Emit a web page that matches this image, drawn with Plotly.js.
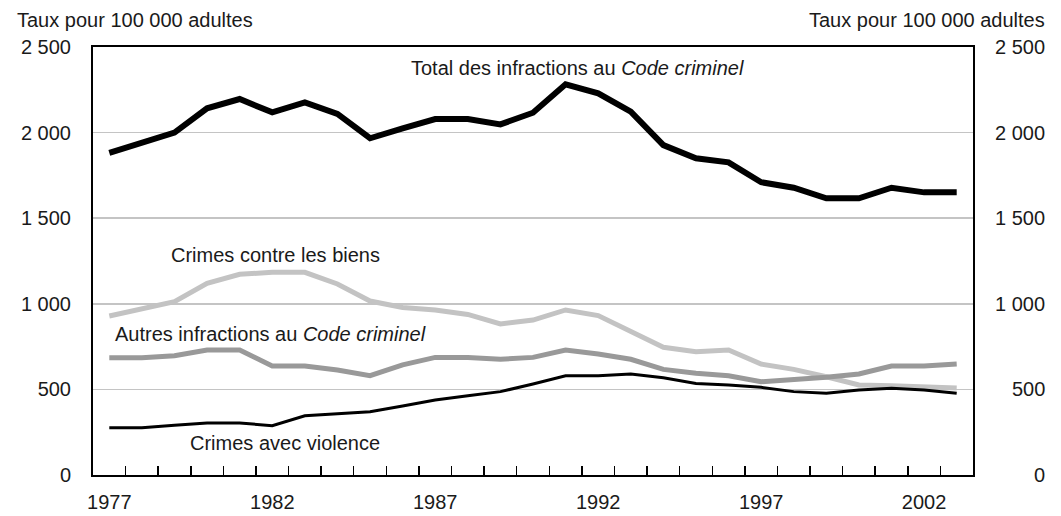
<!DOCTYPE html>
<html><head><meta charset="utf-8">
<script src="https://cdn.plot.ly/plotly-3.0.1.min.js"></script>
<style>
html,body{margin:0;padding:0;background:#fff}
#chart{width:1061px;height:516px}
</style>
</head><body><div id="chart"></div>
<script>
const years = [1977,1978,1979,1980,1981,1982,1983,1984,1985,1986,1987,1988,1989,1990,1991,1992,1993,1994,1995,1996,1997,1998,1999,2000,2001,2002,2003];
const totalCC  = [1882,1941,2000,2142,2196,2118,2177,2109,1967,2025,2079,2079,2048,2116,2282,2229,2122,1927,1850,1826,1710,1678,1616,1616,1678,1651,1651];
const property = [929,970,1012,1120,1172,1184,1184,1116,1016,979,964,938,882,905,964,931,837,746,720,730,648,617,574,526,522,512,508];
const otherCC  = [685,685,697,730,730,637,637,613,580,643,687,687,676,687,730,707,676,617,594,580,545,555,571,590,637,637,648];
const violent  = [276,276,290,304,304,288,346,360,370,403,438,463,487,532,580,580,590,568,535,526,512,487,477,496,506,496,477];

const seriesNames = ['Crimes contre les biens','Autres infractions au <i>Code criminel</i>','Crimes avec violence','Total des infractions au <i>Code criminel</i>'];
const yTickVals = [0,500,1000,1500,2000,2500];
const yTickText = ['0','500','1\u00A0000','1\u00A0500','2\u00A0000','2\u00A0500'];
const xTickVals = [1977,1982,1987,1992,1997,2002];
const xMinorTicks = [1977.5,1978.5,1979.5,1980.5,1981.5,1982.5,1983.5,1984.5,1985.5,1986.5,1987.5,1988.5,1989.5,1990.5,1991.5,1992.5,1993.5,1994.5,1995.5,1996.5,1997.5,1998.5,1999.5,2000.5,2001.5,2002.5];
const axisTitle = 'Taux pour 100 000 adultes';

const FONT = '"Liberation Sans",Arial,sans-serif';
const TXT = '#1a1a1a';

const traces = [
  {x: years, y: property, name: seriesNames[0], mode:'lines', line:{color:'#c3c3c3', width:5}},
  {x: years, y: otherCC, name: seriesNames[1], mode:'lines', line:{color:'#999999', width:5}},
  {x: years, y: violent, name: seriesNames[2], mode:'lines', line:{color:'#000000', width:3}},
  {x: years, y: totalCC, name: seriesNames[3], mode:'lines', line:{color:'#000000', width:6}},
  {x: [years[0]], y: [0], xaxis:'x2', yaxis:'y2', mode:'markers', marker:{opacity:0}, hoverinfo:'skip', showlegend:false}
];

const annotations = [
  {x:1986.2, y:2377, text:seriesNames[3], xanchor:'left'},
  {x:1978.84, y:1285, text:seriesNames[0], xanchor:'left'},
  {x:1977.12, y:824, text:seriesNames[1], xanchor:'left'},
  {x:1979.42, y:187, text:seriesNames[2], xanchor:'left'}
].map(a => Object.assign({xref:'x', yref:'y', yanchor:'middle', showarrow:false, font:{family:FONT, size:20, color:TXT}}, a));

annotations.push({xref:'paper', yref:'paper', x:-0.0886, y:1.063, xanchor:'left', yanchor:'middle', text:axisTitle, showarrow:false, font:{family:FONT, size:20, color:TXT}});
annotations.push({xref:'paper', yref:'paper', x:1.0841, y:1.063, xanchor:'right', yanchor:'middle', text:axisTitle, showarrow:false, font:{family:FONT, size:20, color:TXT}});
yTickVals.forEach((v,i) => annotations.push({xref:'paper', yref:'y', x:1.0841, y:v, xanchor:'right', yanchor:'middle', text:yTickText[i], showarrow:false, font:{family:FONT, size:20, color:TXT}}));

const layout = {
  width:1061, height:516,
  margin:{l:93, r:88, t:47, b:41},
  paper_bgcolor:'#fff', plot_bgcolor:'#fff',
  showlegend:false,
  font:{family:FONT, size:20, color:TXT},
  xaxis:{
    range:[1976.5,2003.5], tickvals:xTickVals, ticktext:xTickVals.map(String),
    ticks:'', ticklabelstandoff:8, showgrid:false, zeroline:false,
    showline:true, linecolor:'#000', linewidth:2, mirror:true,
    tickfont:{family:FONT, size:20, color:TXT}, fixedrange:true
  },
  xaxis2:{
    range:[1976.5,2003.5], overlaying:'x', anchor:'y', side:'bottom',
    tickvals:xMinorTicks, ticks:'inside', ticklen:9, tickwidth:1.5, tickcolor:'#000',
    showticklabels:false, showgrid:false, zeroline:false, showline:false, fixedrange:true
  },
  yaxis:{
    range:[0,2500], tickvals:yTickVals, ticktext:yTickText, ticks:'', ticklabelstandoff:16,
    showgrid:true, gridcolor:'#c4c4c4', gridwidth:1.5, zeroline:false,
    showline:true, linecolor:'#000', linewidth:2, mirror:true,
    tickfont:{family:FONT, size:20, color:TXT}, fixedrange:true
  },
  yaxis2:{range:[0,2500], overlaying:'y', side:'right', showticklabels:false, showgrid:false, zeroline:false, showline:false, ticks:'', fixedrange:true},
  annotations: annotations
};

Plotly.newPlot('chart', traces, layout, {displayModeBar:false, staticPlot:true});
</script>
</body></html>
